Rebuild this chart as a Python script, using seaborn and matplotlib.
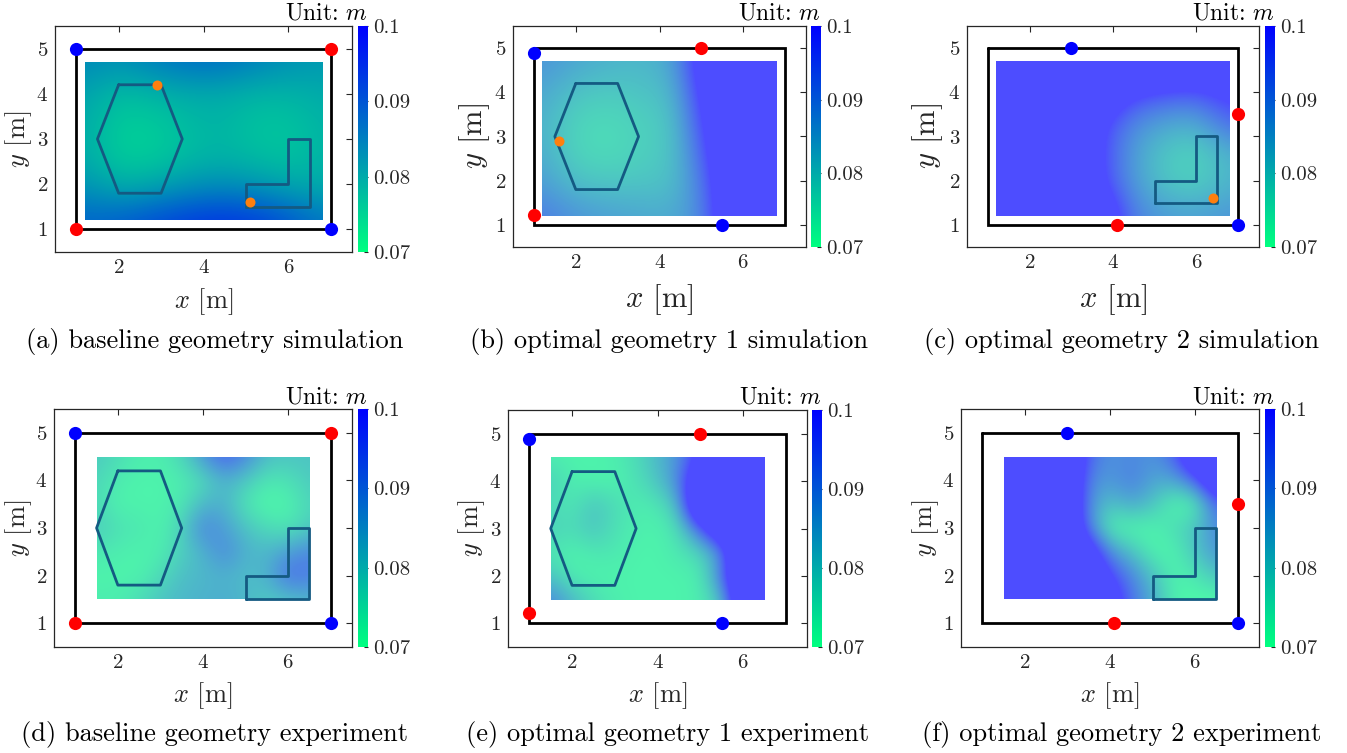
import numpy as np
import matplotlib
matplotlib.use("Agg")
import matplotlib.pyplot as plt
import seaborn as sns
from matplotlib.patches import Rectangle
from matplotlib.colors import Normalize
from matplotlib.cm import ScalarMappable

sns.set_theme(style="white")
plt.rcParams.update({
    "font.family": "serif",
    "font.serif": ["cmr10"],
    "mathtext.fontset": "cm",
    "axes.formatter.use_mathtext": True,
    "axes.unicode_minus": False,
})

# ---------------- data ----------------
room_x = [1, 7, 7, 1, 1]
room_y = [5, 5, 1, 1, 5]
hex_x = [2, 3, 3.5, 3, 2, 1.5, 2]
hex_y = [4.2, 4.2, 3, 1.8, 1.8, 3, 4.2]
ell_x = [5, 6.5, 6.5, 6, 6, 5, 5]
ell_y = [1.5, 1.5, 3, 3, 2, 2, 1.5]

base_blue_x, base_blue_y = [1, 7], [5, 1]
base_red_x, base_red_y = [7, 1], [5, 1]
base_orange_x, base_orange_y = [2.9, 5.1], [4.2, 1.6]
opt1_blue_x, opt1_blue_y = [1, 5.5], [4.88, 1]
opt1_red_x, opt1_red_y = [5, 1], [5, 1.22]
opt1_orange_x, opt1_orange_y = [1.6], [2.9]
opt2_blue_x, opt2_blue_y = [3, 7], [5, 1]
opt2_red_x, opt2_red_y = [7, 4.1], [3.5, 1]
opt2_orange_x, opt2_orange_y = [6.4], [1.6]

sim_extent = [1.2, 6.8, 1.2, 4.7]   # nodes: 8 columns x 6 rows, rows listed top -> bottom
exp_extent = [1.5, 6.5, 1.5, 4.5]   # nodes: 11 columns x 7 rows, rows listed top -> bottom

sim_base = [
    [0.084, 0.083, 0.085, 0.087, 0.087, 0.085, 0.083, 0.082],
    [0.081, 0.078, 0.079, 0.080, 0.080, 0.079, 0.079, 0.080],
    [0.080, 0.076, 0.076, 0.078, 0.079, 0.077, 0.077, 0.079],
    [0.080, 0.076, 0.076, 0.078, 0.079, 0.078, 0.077, 0.079],
    [0.083, 0.080, 0.081, 0.083, 0.084, 0.083, 0.081, 0.080],
    [0.088, 0.089, 0.091, 0.093, 0.094, 0.093, 0.090, 0.086],
]
sim_opt1 = [
    [0.088, 0.085, 0.083, 0.082, 0.085, 0.115, 0.130, 0.130],
    [0.085, 0.080, 0.079, 0.080, 0.082, 0.110, 0.130, 0.130],
    [0.083, 0.077, 0.076, 0.078, 0.080, 0.105, 0.130, 0.130],
    [0.084, 0.077, 0.076, 0.078, 0.080, 0.100, 0.130, 0.130],
    [0.087, 0.081, 0.080, 0.080, 0.081, 0.095, 0.130, 0.130],
    [0.092, 0.088, 0.086, 0.085, 0.084, 0.092, 0.130, 0.130],
]
sim_opt2 = [
    [0.130, 0.130, 0.130, 0.130, 0.130, 0.125, 0.120, 0.115],
    [0.130, 0.130, 0.130, 0.120, 0.102, 0.098, 0.097, 0.105],
    [0.130, 0.130, 0.130, 0.104, 0.090, 0.085, 0.083, 0.095],
    [0.130, 0.130, 0.130, 0.103, 0.087, 0.079, 0.077, 0.083],
    [0.130, 0.130, 0.130, 0.104, 0.088, 0.080, 0.078, 0.083],
    [0.130, 0.130, 0.130, 0.120, 0.092, 0.087, 0.086, 0.088],
]
exp_base = [
    [0.079, 0.076, 0.073, 0.073, 0.077, 0.088, 0.097, 0.090, 0.081, 0.080, 0.080],
    [0.077, 0.073, 0.072, 0.072, 0.073, 0.076, 0.083, 0.079, 0.074, 0.075, 0.079],
    [0.076, 0.072, 0.072, 0.072, 0.074, 0.082, 0.083, 0.074, 0.071, 0.072, 0.077],
    [0.079, 0.075, 0.074, 0.072, 0.078, 0.091, 0.086, 0.080, 0.076, 0.074, 0.079],
    [0.074, 0.073, 0.072, 0.073, 0.078, 0.083, 0.090, 0.083, 0.082, 0.086, 0.090],
    [0.072, 0.072, 0.072, 0.076, 0.081, 0.082, 0.083, 0.081, 0.083, 0.095, 0.092],
    [0.073, 0.073, 0.076, 0.080, 0.082, 0.083, 0.084, 0.082, 0.079, 0.080, 0.082],
]
exp_opt1 = [
    [0.073, 0.072, 0.072, 0.073, 0.076, 0.082, 0.088, 0.104, 0.130, 0.130, 0.130],
    [0.078, 0.073, 0.072, 0.072, 0.075, 0.080, 0.090, 0.120, 0.130, 0.130, 0.130],
    [0.076, 0.074, 0.080, 0.076, 0.073, 0.074, 0.082, 0.130, 0.130, 0.130, 0.130],
    [0.078, 0.076, 0.080, 0.075, 0.073, 0.072, 0.076, 0.095, 0.120, 0.130, 0.130],
    [0.074, 0.072, 0.074, 0.074, 0.072, 0.072, 0.074, 0.077, 0.088, 0.130, 0.130],
    [0.080, 0.073, 0.072, 0.072, 0.072, 0.072, 0.072, 0.073, 0.092, 0.130, 0.130],
    [0.090, 0.082, 0.076, 0.073, 0.072, 0.072, 0.072, 0.073, 0.080, 0.120, 0.130],
]
exp_opt2 = [
    [0.130, 0.130, 0.130, 0.120, 0.095, 0.088, 0.090, 0.088, 0.095, 0.120, 0.130],
    [0.130, 0.130, 0.130, 0.120, 0.090, 0.087, 0.092, 0.085, 0.085, 0.095, 0.120],
    [0.130, 0.130, 0.130, 0.120, 0.088, 0.080, 0.085, 0.080, 0.071, 0.072, 0.095],
    [0.130, 0.130, 0.130, 0.120, 0.090, 0.072, 0.071, 0.072, 0.076, 0.080, 0.090],
    [0.130, 0.130, 0.130, 0.130, 0.110, 0.088, 0.080, 0.072, 0.072, 0.080, 0.088],
    [0.130, 0.130, 0.130, 0.130, 0.120, 0.100, 0.090, 0.080, 0.072, 0.074, 0.080],
    [0.130, 0.130, 0.130, 0.130, 0.130, 0.110, 0.093, 0.084, 0.072, 0.071, 0.071],
]

cbar_ticks = [0.07, 0.08, 0.09, 0.1]
cbar_ticklabels = ["0.07", "0.08", "0.09", "0.1"]
captions = [
    "(a) baseline geometry simulation",
    "(b) optimal geometry 1 simulation",
    "(c) optimal geometry 2 simulation",
    "(d) baseline geometry experiment",
    "(e) optimal geometry 1 experiment",
    "(f) optimal geometry 2 experiment",
]

# ---------------- layout ----------------
W, H = 1347, 753
fig = plt.figure(figsize=(W / 100, H / 100), dpi=100)
cmap = plt.get_cmap("winter_r")
norm = Normalize(vmin=0.07, vmax=0.1)
dark = "#262626"
poly_color = "#145A82"
TICK = 15

panels = [
    dict(field=sim_base, ext=sim_extent, alpha=1.0, blue=(base_blue_x, base_blue_y), red=(base_red_x, base_red_y),
         orange=(base_orange_x, base_orange_y), hexa=True, ell=True,
         box=(55, 352, 26, 252), cbx=(358, 368), lab=19, ylx=19, xly=302, cap=(215, 341)),
    dict(field=sim_opt1, ext=sim_extent, alpha=0.7, blue=(opt1_blue_x, opt1_blue_y), red=(opt1_red_x, opt1_red_y),
         orange=(opt1_orange_x, opt1_orange_y), hexa=True, ell=False,
         box=(513, 806, 26, 247), cbx=(811, 821), lab=22, ylx=475, xly=300, cap=(669, 341)),
    dict(field=sim_opt2, ext=sim_extent, alpha=0.7, blue=(opt2_blue_x, opt2_blue_y), red=(opt2_red_x, opt2_red_y),
         orange=(opt2_orange_x, opt2_orange_y), hexa=False, ell=True,
         box=(967, 1259, 26, 247), cbx=(1265, 1275), lab=22, ylx=928, xly=300, cap=(1122, 341)),
    dict(field=exp_base, ext=exp_extent, alpha=0.7, blue=(base_blue_x, base_blue_y), red=(base_red_x, base_red_y),
         orange=None, hexa=True, ell=True,
         box=(54, 352, 409, 647), cbx=(358, 368), lab=19, ylx=19, xly=696, cap=(215, 735)),
    dict(field=exp_opt1, ext=exp_extent, alpha=0.7, blue=(opt1_blue_x, opt1_blue_y), red=(opt1_red_x, opt1_red_y),
         orange=None, hexa=True, ell=False,
         box=(508, 807, 410, 647), cbx=(812, 822), lab=19, ylx=472, xly=696, cap=(668, 735)),
    dict(field=exp_opt2, ext=exp_extent, alpha=0.7, blue=(opt2_blue_x, opt2_blue_y), red=(opt2_red_x, opt2_red_y),
         orange=None, hexa=False, ell=True,
         box=(961, 1259, 409, 647), cbx=(1265, 1275), lab=19, ylx=926, xly=696, cap=(1122, 735)),
]

for p, caption in zip(panels, captions):
    x0, x1, y0, y1 = p["box"]
    ax = fig.add_axes([x0 / W, 1 - y1 / H, (x1 - x0) / W, (y1 - y0) / H])
    ax.set_facecolor("white")

    # field (node values, smoothed by imshow's interpolation, clipped to the grid rectangle)
    Z = np.array(p["field"])
    ny, nx = Z.shape
    ex0, ex1, ey0, ey1 = p["ext"]
    dx = (ex1 - ex0) / (nx - 1)
    dy = (ey1 - ey0) / (ny - 1)
    im = ax.imshow(Z, cmap=cmap, norm=norm, origin="upper", alpha=p["alpha"],
                   extent=(ex0 - dx / 2, ex1 + dx / 2, ey0 - dy / 2, ey1 + dy / 2),
                   interpolation="bicubic", interpolation_stage="data", zorder=1, aspect="auto")
    clip = Rectangle((ex0, ey0), ex1 - ex0, ey1 - ey0, transform=ax.transData)
    im.set_clip_path(clip)

    ax.plot(room_x, room_y, color="black", lw=2.0, zorder=2, solid_joinstyle="miter")
    if p["hexa"]:
        ax.plot(hex_x, hex_y, color=poly_color, lw=2.0, zorder=3)
    if p["ell"]:
        ax.plot(ell_x, ell_y, color=poly_color, lw=2.0, zorder=3)

    sns.scatterplot(x=p["blue"][0], y=p["blue"][1], color="#0000FF", s=90, linewidth=0,
                    ax=ax, zorder=5, legend=False)
    sns.scatterplot(x=p["red"][0], y=p["red"][1], color="#FF0000", s=90, linewidth=0,
                    ax=ax, zorder=5, legend=False)
    if p["orange"] is not None:
        sns.scatterplot(x=p["orange"][0], y=p["orange"][1], color="#FF7F0E", s=52, linewidth=0,
                        ax=ax, zorder=6, legend=False)

    ax.set_xlim(0.5, 7.5)
    ax.set_ylim(0.5, 5.5)
    ax.set_xticks([2, 4, 6])
    ax.set_yticks([1, 2, 3, 4, 5])
    ax.tick_params(direction="in", length=4, width=0.8, colors=dark, labelsize=TICK,
                   top=True, right=True, pad=5)
    for s in ax.spines.values():
        s.set_color(dark)
        s.set_linewidth(0.9)

    ax.set_xlabel(r"$x$ [m]", fontsize=p["lab"], color=dark)
    ax.set_ylabel(r"$y$ [m]", fontsize=p["lab"], color=dark)
    ax.xaxis.set_label_coords(0.5, -(p["xly"] - y1) / (y1 - y0))
    ax.xaxis.label.set_va("center")
    ax.yaxis.set_label_coords(-(x0 - p["ylx"]) / (x1 - x0), 0.5)
    ax.yaxis.label.set_va("center")
    ax.yaxis.label.set_ha("center")

    # colorbar
    c0, c1 = p["cbx"]
    cax = fig.add_axes([c0 / W, 1 - y1 / H, (c1 - c0) / W, (y1 - y0) / H])
    cb = fig.colorbar(ScalarMappable(norm=norm, cmap=cmap), cax=cax)
    cb.set_ticks(cbar_ticks)
    cb.set_ticklabels(cbar_ticklabels)
    cb.outline.set_visible(False)
    cax.tick_params(direction="in", length=3, width=0.8, colors=dark, labelsize=TICK, pad=4)
    fig.text(c1 / W, 1 - (y0 - 6) / H, r"Unit: $m$", ha="right", va="baseline",
             fontsize=17, color="black")

    cx, cy = p["cap"]
    fig.text(cx / W, 1 - cy / H, caption, ha="center", va="center", fontsize=19, color="black")

fig.savefig("out.png", dpi=100)
